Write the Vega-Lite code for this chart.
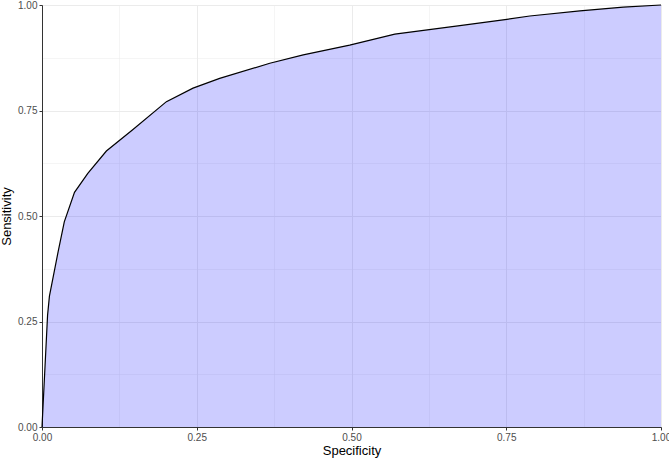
{
  "$schema": "https://vega.github.io/schema/vega-lite/v6.json",
  "width": 619,
  "height": 422,
  "autosize": "none",
  "padding": {"left": 42, "top": 5, "right": 8, "bottom": 31},
  "background": "white",
  "config": {
    "view": {"stroke": "#888888", "strokeWidth": 1},
    "font": "Liberation Sans",
    "axis": {
      "labelFont": "Liberation Sans",
      "titleFont": "Liberation Sans",
      "labelFontSize": 10,
      "labelColor": "#4D4D4D",
      "titleFontSize": 13,
      "titleFontWeight": "normal",
      "titleColor": "#000000",
      "domainColor": "#333333",
      "domainWidth": 1,
      "tickColor": "#333333",
      "tickSize": 3,
      "gridColor": "#EBEBEB"
    }
  },
  "data": {
    "values": [
      {"fpr": 0.0, "tpr": 0.0},
      {"fpr": 0.009, "tpr": 0.265},
      {"fpr": 0.012, "tpr": 0.31},
      {"fpr": 0.026, "tpr": 0.415},
      {"fpr": 0.036, "tpr": 0.486},
      {"fpr": 0.0525, "tpr": 0.556},
      {"fpr": 0.074, "tpr": 0.601},
      {"fpr": 0.104, "tpr": 0.654},
      {"fpr": 0.146, "tpr": 0.704},
      {"fpr": 0.201, "tpr": 0.771},
      {"fpr": 0.244, "tpr": 0.803},
      {"fpr": 0.287, "tpr": 0.826},
      {"fpr": 0.368, "tpr": 0.862},
      {"fpr": 0.422, "tpr": 0.882},
      {"fpr": 0.497, "tpr": 0.905},
      {"fpr": 0.57, "tpr": 0.931},
      {"fpr": 0.675, "tpr": 0.951},
      {"fpr": 0.751, "tpr": 0.966},
      {"fpr": 0.788, "tpr": 0.974},
      {"fpr": 0.869, "tpr": 0.986},
      {"fpr": 0.939, "tpr": 0.995},
      {"fpr": 1.0, "tpr": 1.0}
    ]
  },
  "encoding": {
    "x": {
      "field": "fpr",
      "type": "quantitative",
      "title": "Specificity",
      "scale": {"domain": [0, 1], "nice": false, "zero": false},
      "axis": {
        "values": [0, 0.125, 0.25, 0.375, 0.5, 0.625, 0.75, 0.875, 1],
        "format": ".2f",
        "labelExpr": "(datum.value*4) % 1 === 0 ? datum.label : ''",
        "labelFlush": false,
        "labelPadding": 2,
        "titlePadding": 2,
        "tickOpacity": {"condition": {"test": "(datum.value*4) % 1 !== 0", "value": 0}, "value": 1},
        "gridWidth": {"condition": {"test": "(datum.value*4) % 1 !== 0", "value": 0.5}, "value": 1}
      }
    },
    "y": {
      "field": "tpr",
      "type": "quantitative",
      "title": "Sensitivity",
      "scale": {"domain": [0, 1], "nice": false, "zero": false},
      "axis": {
        "values": [0, 0.125, 0.25, 0.375, 0.5, 0.625, 0.75, 0.875, 1],
        "format": ".2f",
        "labelExpr": "(datum.value*4) % 1 === 0 ? datum.label : ''",
        "labelFlush": false,
        "labelPadding": 2,
        "titlePadding": 4,
        "tickOpacity": {"condition": {"test": "(datum.value*4) % 1 !== 0", "value": 0}, "value": 1},
        "gridWidth": {"condition": {"test": "(datum.value*4) % 1 !== 0", "value": 0.5}, "value": 1}
      }
    }
  },
  "layer": [
    {"mark": {"type": "area", "color": "#0000FF", "opacity": 0.2}},
    {"mark": {"type": "line", "color": "#000000", "strokeWidth": 1.2}}
  ]
}
